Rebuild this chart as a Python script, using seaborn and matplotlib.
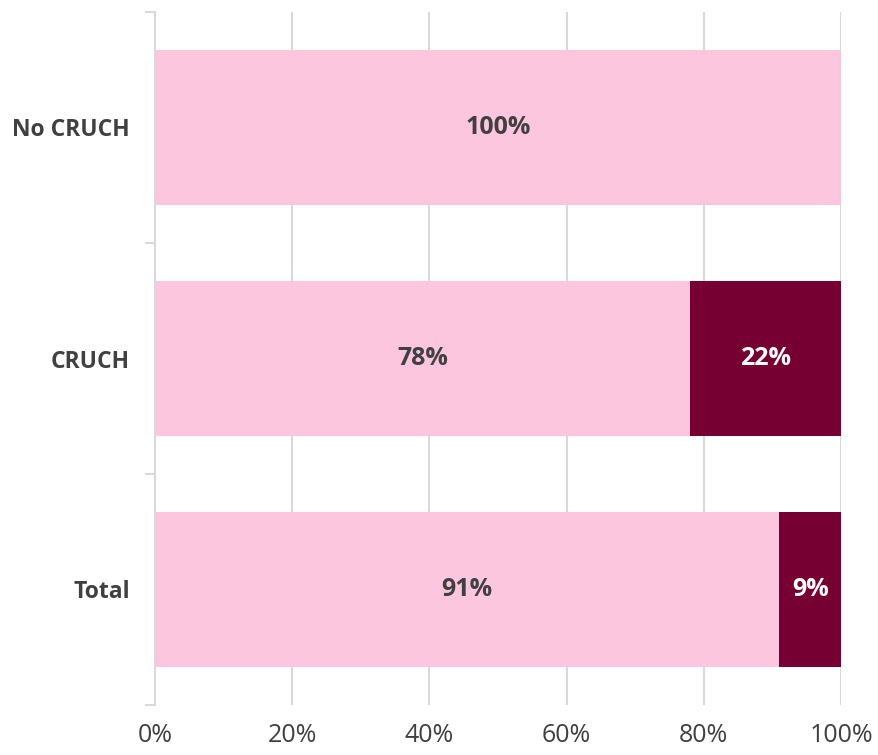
import matplotlib
matplotlib.use("Agg")
import matplotlib.pyplot as plt
import seaborn as sns

categories = ["No CRUCH", "CRUCH", "Total"]
pink_vals = [100, 78, 91]
maroon_vals = [0, 22, 9]

pink = "#FDC6DF"
maroon = "#770033"
text_col = "#404040"
grid_col = "#D9D9D9"

sns.set_style("white")
plt.rcParams["font.family"] = ["Open Sans", "DejaVu Sans"]

fig = plt.figure(figsize=(8.79, 7.55), dpi=100)
ax = fig.add_axes([155 / 879, 1 - 705 / 755, 686 / 879, 693 / 755])

totals = [p + m for p, m in zip(pink_vals, maroon_vals)]
sns.barplot(x=totals, y=categories, color=maroon, orient="h", width=0.667,
            saturation=1, linewidth=0, ax=ax, zorder=2)
sns.barplot(x=pink_vals, y=categories, color=pink, orient="h", width=0.667,
            saturation=1, linewidth=0, ax=ax, zorder=3)

# labels
for i, (p, m) in enumerate(zip(pink_vals, maroon_vals)):
    ax.text(p / 2, i, f"{p}%", ha="center", va="center", fontsize=18,
            fontweight="bold", color=text_col, zorder=5)
    if m > 0:
        ax.text(p + m / 2, i, f"{m}%", ha="center", va="center", fontsize=18,
                fontweight="bold", color="white", zorder=5)

ax.set_xlim(0, 100)
ax.set_ylim(2.5, -0.5)
ax.set_xticks([0, 20, 40, 60, 80, 100])
ax.set_xticklabels([f"{v}%" for v in [0, 20, 40, 60, 80, 100]],
                   fontsize=18, color=text_col)
ax.xaxis.grid(True, color=grid_col, linewidth=1.5, zorder=0)
ax.set_axisbelow(True)
ax.tick_params(axis="x", length=0, pad=13)
ax.tick_params(axis="y", which="major", left=True, length=0, pad=18)
ax.set_yticks([-0.5, 0.5, 1.5, 2.5], minor=True)
ax.tick_params(axis="y", which="minor", left=True, length=7,
               color=grid_col, width=1.5)
for lbl in ax.get_yticklabels():
    lbl.set_fontsize(16.5)
    lbl.set_fontweight("bold")
    lbl.set_color(text_col)

for s in ["top", "right", "bottom"]:
    ax.spines[s].set_visible(False)
ax.spines["left"].set_color(grid_col)
ax.spines["left"].set_linewidth(1.5)
ax.set_xlabel("")
ax.set_ylabel("")

fig.savefig("out.png", dpi=100)
